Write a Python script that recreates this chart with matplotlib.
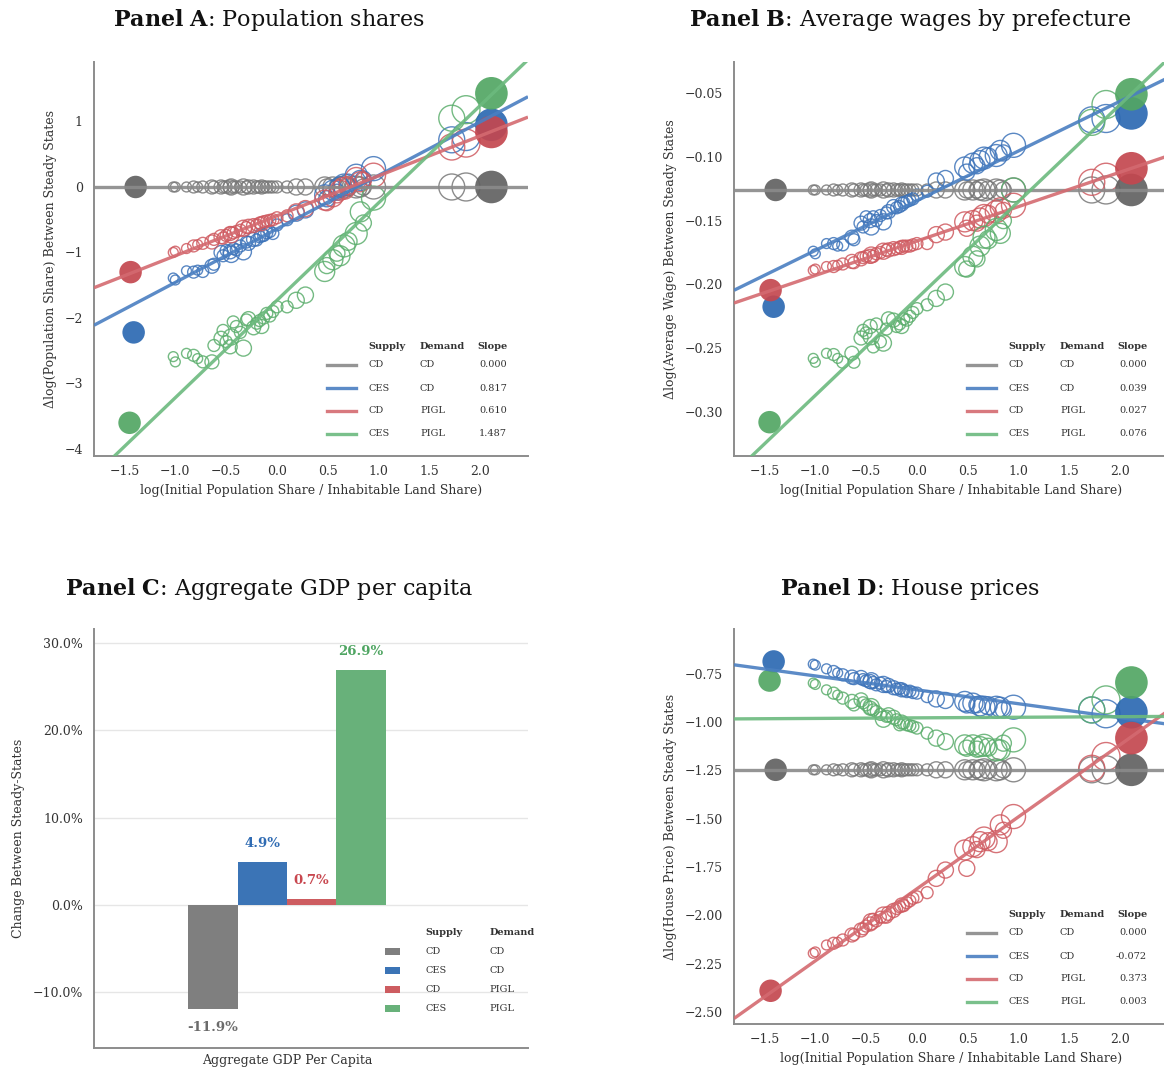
import numpy as np
import matplotlib
matplotlib.use("Agg")
import matplotlib.pyplot as plt
from matplotlib.lines import Line2D
from matplotlib.patches import Rectangle
from matplotlib.ticker import FuncFormatter, FixedLocator

plt.rcParams['font.family'] = ['DejaVu Serif']
plt.rcParams['mathtext.fontset'] = 'dejavuserif'
plt.rcParams['axes.unicode_minus'] = True

# ---- model specifications (same order in every panel) ----
supply = ["CD", "CES", "CD", "CES"]
demand = ["CD", "CD", "PIGL", "PIGL"]

# ---- prefectures: log(initial pop share / inhabitable land share), population (millions) ----
x_pref = [-1.02, -1.00, -0.89, -0.82, -0.78, -0.73, -0.64, -0.62, -0.55, -0.53,
          -0.50, -0.46, -0.45, -0.43, -0.40, -0.36, -0.33, -0.30, -0.28, -0.23,
          -0.20, -0.17, -0.15, -0.13, -0.10, -0.07, -0.04, 0.00, 0.10, 0.19,
          0.28, 0.47, 0.49, 0.55, 0.59, 0.62, 0.66, 0.70, 0.78, 0.82,
          0.85, 0.95, 1.72, 1.86]
pop_pref = [1.1, 1.1, 1.1, 1.6, 1.1, 1.6, 2.2, 1.6, 2.2, 1.6,
            1.6, 2.2, 2.9, 1.6, 1.6, 1.6, 2.9, 1.6, 2.2, 2.2,
            1.6, 1.6, 2.2, 1.6, 1.6, 1.6, 1.6, 1.6, 1.6, 2.9,
            2.9, 4.5, 2.9, 4.5, 2.9, 4.5, 5.4, 3.6, 5.4, 4.5,
            2.9, 6.5, 7.6, 8.8]

# highlighted prefectures (filled markers)
x_hokkaido = [-1.39, -1.41, -1.44, -1.45]
x_tokyo = 2.11
pop_hokkaido = 5.7
pop_tokyo = 12.0

# ---- Panel A: change in log population share ----
pop_cd_cd = 0.0
pop_ces_cd = [-1.39, -1.42, -1.28, -1.30, -1.27, -1.29, -1.21, -1.18, -1.00, -1.05,
              -0.97, -0.99, -1.03, -0.94, -0.96, -0.90, -0.99, -0.84, -0.86, -0.80,
              -0.81, -0.76, -0.73, -0.74, -0.70, -0.68, -0.71, -0.58, -0.50, -0.40,
              -0.35, -0.12, -0.18, -0.05, -0.08, 0.00, 0.03, 0.06, 0.18, 0.10,
              0.12, 0.28, 0.72, 0.77]
pop_cd_pigl = [-1.00, -0.98, -0.94, -0.90, -0.88, -0.86, -0.84, -0.80, -0.76, -0.78,
               -0.74, -0.71, -0.73, -0.70, -0.68, -0.66, -0.63, -0.62, -0.60, -0.59,
               -0.58, -0.55, -0.56, -0.53, -0.52, -0.51, -0.50, -0.47, -0.44, -0.38,
               -0.33, -0.20, -0.24, -0.15, -0.12, -0.05, -0.02, 0.02, 0.13, 0.08,
               0.10, 0.18, 0.61, 0.67]
pop_ces_pigl = [-2.59, -2.67, -2.54, -2.57, -2.62, -2.67, -2.67, -2.42, -2.31, -2.19,
                -2.36, -2.44, -2.29, -2.06, -2.13, -2.22, -2.46, -2.03, -2.01, -2.15,
                -2.08, -2.04, -2.13, -2.00, -1.93, -1.97, -1.90, -1.83, -1.83, -1.73,
                -1.65, -1.29, -1.20, -1.11, -1.01, -1.05, -0.90, -0.83, -0.71, -0.38,
                -0.55, -0.17, 1.05, 1.18]
pop_hokkaido_vals = [0.0, -2.22, -1.30, -3.60]
pop_tokyo_vals = [0.0, 0.95, 0.84, 1.43]
pop_slope = [0.000, 0.817, 0.610, 1.487]
pop_icept = [0.0, -0.64, -0.44, -1.73]

# ---- Panel B: change in log average wage ----
wage_cd_cd = -0.126
wage_ces_cd = [-0.174, -0.176, -0.168, -0.168, -0.170, -0.169, -0.163, -0.165, -0.152, -0.155,
               -0.147, -0.150, -0.155, -0.147, -0.150, -0.146, -0.151, -0.144, -0.143, -0.139,
               -0.140, -0.139, -0.137, -0.136, -0.135, -0.134, -0.133, -0.130, -0.127, -0.119,
               -0.117, -0.108, -0.112, -0.105, -0.107, -0.103, -0.101, -0.100, -0.099, -0.095,
               -0.097, -0.091, -0.071, -0.070]
wage_cd_pigl = [-0.189, -0.188, -0.186, -0.186, -0.185, -0.184, -0.182, -0.183, -0.180, -0.179,
                -0.178, -0.178, -0.177, -0.178, -0.176, -0.175, -0.174, -0.173, -0.173, -0.172,
                -0.172, -0.171, -0.171, -0.170, -0.170, -0.170, -0.169, -0.168, -0.168, -0.161,
                -0.159, -0.151, -0.156, -0.150, -0.152, -0.148, -0.146, -0.145, -0.143, -0.140,
                -0.142, -0.138, -0.120, -0.116]
wage_ces_pigl = [-0.258, -0.261, -0.254, -0.255, -0.258, -0.261, -0.254, -0.261, -0.242, -0.236,
                 -0.238, -0.233, -0.241, -0.249, -0.231, -0.245, -0.246, -0.235, -0.227, -0.228,
                 -0.233, -0.231, -0.233, -0.227, -0.228, -0.225, -0.222, -0.219, -0.216, -0.211,
                 -0.206, -0.186, -0.188, -0.178, -0.180, -0.170, -0.163, -0.165, -0.157, -0.160,
                 -0.150, -0.126, -0.073, -0.059]
wage_hokkaido_vals = [-0.126, -0.2175, -0.2045, -0.308]
wage_tokyo_vals = [-0.126, -0.066, -0.109, -0.051]
wage_slope = [0.000, 0.039, 0.027, 0.076]
wage_icept = [-0.126, -0.1344, -0.166, -0.211]

# ---- Panel C: aggregate GDP per capita change (%) ----
gdp_change = [-11.9, 4.9, 0.7, 26.9]

# ---- Panel D: change in log house price ----
house_cd_cd = -1.247
house_ces_cd = [-0.700, -0.705, -0.724, -0.738, -0.745, -0.755, -0.767, -0.775, -0.769, -0.780,
                -0.786, -0.790, -0.786, -0.795, -0.807, -0.798, -0.805, -0.816, -0.810, -0.822,
                -0.829, -0.826, -0.833, -0.836, -0.842, -0.840, -0.847, -0.850, -0.868, -0.880,
                -0.888, -0.893, -0.911, -0.902, -0.910, -0.916, -0.923, -0.915, -0.923, -0.923,
                -0.937, -0.923, -0.937, -0.957]
house_cd_pigl = [-2.197, -2.190, -2.154, -2.145, -2.140, -2.128, -2.102, -2.100, -2.076, -2.070,
                 -2.056, -2.045, -2.033, -2.021, -2.030, -2.010, -1.999, -2.010, -1.990, -1.975,
                 -1.965, -1.956, -1.947, -1.950, -1.935, -1.925, -1.912, -1.905, -1.883, -1.809,
                 -1.766, -1.662, -1.757, -1.645, -1.660, -1.619, -1.600, -1.619, -1.619, -1.532,
                 -1.560, -1.489, -1.239, -1.178]
house_ces_pigl = [-0.798, -0.805, -0.833, -0.850, -0.860, -0.876, -0.893, -0.911, -0.885, -0.900,
                  -0.911, -0.928, -0.920, -0.937, -0.945, -0.960, -0.985, -0.970, -0.962, -0.975,
                  -0.988, -1.014, -1.000, -1.005, -1.014, -1.018, -1.023, -1.031, -1.057, -1.083,
                  -1.101, -1.118, -1.135, -1.118, -1.140, -1.127, -1.120, -1.130, -1.144, -1.144,
                  -1.109, -1.092, -0.937, -0.885]
house_hokkaido_vals = [-1.247, -0.686, -2.391, -0.785]
house_tokyo_vals = [-1.247, -0.949, -1.083, -0.795]
house_slope = [0.000, -0.072, 0.373, 0.003]
house_icept = [-1.247, -0.833, -1.863, -0.978]

# ---- styling ----
hollow_c = ['#787878', '#3d73b9', '#cf5a60', '#5cae6d']
fill_c = ['#626262', '#2c69b2', '#c4474f', '#52a664']
line_c = ['#8a8a8a', '#4a7fc1', '#d46a70', '#6cba7e']
bar_c = ['#7f7f7f', '#3b74b6', '#cd5c60', '#68b17a']
label_c = ['#6b6b6b', '#2f6bb3', '#c8474f', '#4fa562']
TEXT = '#333333'
AREA_PER_MILLION = 46.0  # marker area (pt^2) per million inhabitants

W, H = 1164, 1069
fig = plt.figure(figsize=(W / 100, H / 100), dpi=100)


def box(l, r, t, b):
    return [l / W, 1 - b / H, (r - l) / W, (b - t) / H]


axA = fig.add_axes(box(94, 528, 62, 456))
axB = fig.add_axes(box(734, 1168, 62, 456))
axC = fig.add_axes(box(94, 528, 629, 1048))
axD = fig.add_axes(box(734, 1168, 629, 1024))


def style(ax, xpad=6.5):
    for s in ['top', 'right']:
        ax.spines[s].set_visible(False)
    for s in ['left', 'bottom']:
        ax.spines[s].set_color('#8c8c8c')
        ax.spines[s].set_linewidth(1.4)
    ax.tick_params(axis='both', length=0, labelsize=9, labelcolor=TEXT)
    ax.tick_params(axis='y', pad=8)
    ax.tick_params(axis='x', pad=xpad)


XLIM = (-1.80, 2.47)
x_arr = np.array(x_pref)
s_arr = np.array(pop_pref) * AREA_PER_MILLION


def scatter_panel(ax, series, hok, tok, slopes, icepts, ylim, yticks, ylabel):
    for i, vals in enumerate(series):
        y = np.broadcast_to(np.asarray(vals, dtype=float), x_arr.shape)
        ax.scatter(x_arr, y, s=s_arr, facecolors='none', edgecolors=hollow_c[i],
                   linewidths=1.0, alpha=0.85, zorder=2)
        ax.scatter([x_hokkaido[i], x_tokyo], [hok[i], tok[i]],
                   s=[pop_hokkaido * AREA_PER_MILLION, pop_tokyo * AREA_PER_MILLION],
                   color=fill_c[i], edgecolors='none', alpha=0.92, zorder=3)
    xs = np.array(XLIM)
    for i in range(4):
        ax.plot(xs, icepts[i] + slopes[i] * xs, color=line_c[i], lw=2.4, alpha=0.9,
                zorder=4, solid_capstyle='butt')
    ax.set_xlim(*XLIM)
    ax.set_ylim(*ylim)
    ax.xaxis.set_major_locator(FixedLocator([-1.5, -1.0, -0.5, 0.0, 0.5, 1.0, 1.5, 2.0]))
    ax.yaxis.set_major_locator(FixedLocator(yticks))
    style(ax)
    ax.set_xlabel('log(Initial Population Share / Inhabitable Land Share)', fontsize=9, color=TEXT)
    ax.set_ylabel(ylabel, fontsize=9, color=TEXT)
    ax.xaxis.set_label_coords(0.5, -0.071)

    # slope table legend
    hy = 0.277
    rows = [0.231, 0.172, 0.115, 0.056]
    kw = dict(transform=ax.transAxes, fontsize=7, color=TEXT, va='center')
    ax.text(0.632, hy, 'Supply', weight='bold', ha='left', **kw)
    ax.text(0.751, hy, 'Demand', weight='bold', ha='left', **kw)
    ax.text(0.952, hy, 'Slope', weight='bold', ha='right', **kw)
    for i, yy in enumerate(rows):
        ax.add_line(Line2D([0.5376, 0.6037], [yy, yy], transform=ax.transAxes,
                           color=line_c[i], lw=2.4, alpha=0.9))
        ax.text(0.632, yy, supply[i], ha='left', **kw)
        ax.text(0.751, yy, demand[i], ha='left', **kw)
        ax.text(0.952, yy, f"{slopes[i]:.3f}", ha='right', **kw)


scatter_panel(axA, [pop_cd_cd, pop_ces_cd, pop_cd_pigl, pop_ces_pigl],
              pop_hokkaido_vals, pop_tokyo_vals, pop_slope, pop_icept,
              (-4.107, 1.908), [1, 0, -1, -2, -3, -4],
              'Δlog(Population Share) Between Steady States')
axA.yaxis.set_label_coords(-0.085, 0.5)

scatter_panel(axB, [wage_cd_cd, wage_ces_cd, wage_cd_pigl, wage_ces_pigl],
              wage_hokkaido_vals, wage_tokyo_vals, wage_slope, wage_icept,
              (-0.3345, -0.0257), [-0.05, -0.10, -0.15, -0.20, -0.25, -0.30],
              'Δlog(Average Wage) Between Steady States')
axB.yaxis.set_label_coords(-0.131, 0.5)

scatter_panel(axD, [house_cd_cd, house_ces_cd, house_cd_pigl, house_ces_pigl],
              house_hokkaido_vals, house_tokyo_vals, house_slope, house_icept,
              (-2.563, -0.518), [-0.75, -1.00, -1.25, -1.50, -1.75, -2.00, -2.25, -2.50],
              'Δlog(House Price) Between Steady States')
axD.yaxis.set_label_coords(-0.131, 0.5)

# ---- Panel C: bars ----
bar_w = 0.2
bar_x = (np.arange(len(gdp_change)) - (len(gdp_change) - 1) / 2) * bar_w
axC.bar(bar_x, gdp_change, width=bar_w, color=bar_c, edgecolor='none', zorder=2)
for xb, v, c in zip(bar_x, gdp_change, label_c):
    axC.annotate(f"{v:.1f}%", (xb, v), xytext=(0, 13.4 if v >= 0 else -13.4),
                 textcoords='offset points', ha='center', va='center',
                 fontsize=9.5, weight='bold', color=c)
axC.set_xlim(-0.783, 0.978)
axC.set_ylim(-16.4, 31.6)
axC.yaxis.set_major_locator(FixedLocator([-10, 0, 10, 20, 30]))
axC.yaxis.set_major_formatter(FuncFormatter(lambda v, p: f"{v:.1f}%".replace('-', '\u2212')))
axC.set_xticks([0.0])
axC.set_xticklabels(['Aggregate GDP Per Capita'])
axC.grid(axis='y', color='#e6e6e6', lw=1.0, zorder=0)
axC.set_axisbelow(True)
style(axC, xpad=4.5)
axC.set_ylabel('Change Between Steady-States', fontsize=9, color=TEXT)
axC.yaxis.set_label_coords(-0.16, 0.5)

hy = 0.275
rows = [0.230, 0.1845, 0.140, 0.0947]
kw = dict(transform=axC.transAxes, fontsize=7, color=TEXT, va='center')
axC.text(0.763, hy, 'Supply', weight='bold', ha='left', **kw)
axC.text(0.912, hy, 'Demand', weight='bold', ha='left', **kw)
for i, yy in enumerate(rows):
    axC.add_patch(Rectangle((0.671, yy - 0.0085), 0.035, 0.017, transform=axC.transAxes,
                            facecolor=bar_c[i], edgecolor='none', clip_on=False))
    axC.text(0.763, yy, supply[i], ha='left', **kw)
    axC.text(0.912, yy, demand[i], ha='left', **kw)

# ---- panel titles ----
titles = [(0.2315, 0.9813, r"$\bf{Panel\ A}$: Population shares"),
          (0.7818, 0.9813, r"$\bf{Panel\ B}$: Average wages by prefecture"),
          (0.2311, 0.4490, r"$\bf{Panel\ C}$: Aggregate GDP per capita"),
          (0.7814, 0.4490, r"$\bf{Panel\ D}$: House prices")]
for tx, ty, t in titles:
    fig.text(tx, ty, t, ha='center', va='center', fontsize=16, color='#111111')

fig.savefig('out.png', dpi=100)
